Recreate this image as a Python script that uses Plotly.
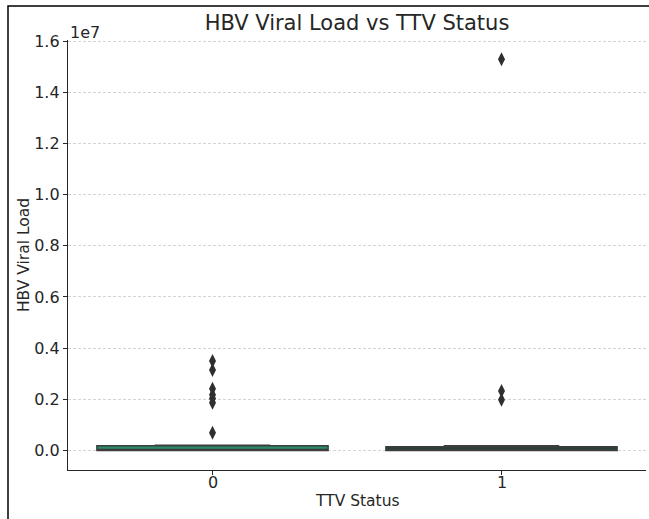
import plotly.graph_objects as go

categories = [0, 1]
category_labels = ["0", "1"]
box_q1 = [0, 0]
box_median = [40000, 30000]
box_q3 = [190000, 150000]
box_lower = [0, 0]
box_upper = [210000, 190000]
box_colors = ["#2a8a6c", "#22453a"]

outliers_0 = [3500000, 3150000, 2410000, 2180000, 2030000, 1870000, 700000]
outliers_1 = [15290000, 2330000, 1980000]

tick_vals = [0, 2e6, 4e6, 6e6, 8e6, 10e6, 12e6, 14e6, 16e6]
tick_text = ["0.0", "0.2", "0.4", "0.6", "0.8", "1.0", "1.2", "1.4", "1.6"]

FONT = "DejaVu Sans"
TXT = "#262626"
fig = go.Figure()
for i, c in enumerate(categories):
    fig.add_trace(go.Box(
        x=[c], q1=[box_q1[i]], median=[box_median[i]], q3=[box_q3[i]],
        lowerfence=[box_lower[i]], upperfence=[box_upper[i]],
        width=0.8, whiskerwidth=0.5, fillcolor=box_colors[i],
        line=dict(color="#3d3d3d", width=1.5), boxpoints=False, showlegend=False))

for c, vals in zip(categories, [outliers_0, outliers_1]):
    fig.add_trace(go.Scatter(
        x=[c] * len(vals), y=vals, mode="markers", showlegend=False,
        marker=dict(symbol="diamond-tall", size=10, color="#2f2f2f")))

annotations = [dict(text="1e7", xref="paper", yref="paper", x=0, y=1.0,
                    xanchor="left", yanchor="bottom", showarrow=False,
                    font=dict(size=16, color=TXT), yshift=-4)]
for c, lab in zip(categories, category_labels):
    annotations.append(dict(text=lab, xref="x", yref="paper", x=c, y=0,
                            xanchor="center", yanchor="top", showarrow=False,
                            yshift=-1, font=dict(size=16, color=TXT)))
annotations.append(dict(text="TTV Status", xref="paper", yref="paper", x=0.5, y=0,
                        xanchor="center", yanchor="top", showarrow=False,
                        yshift=-20, font=dict(size=15.5, color=TXT)))

fig.update_layout(
    width=649, height=519,
    margin=dict(l=68, r=3, t=40, b=49),
    paper_bgcolor="white", plot_bgcolor="white",
    font=dict(family=FONT, size=16, color=TXT),
    title=dict(text="HBV Viral Load vs TTV Status", x=357 / 649, xanchor="center",
               y=1 - 23 / 519, yanchor="middle", font=dict(size=21, color=TXT)),
    xaxis=dict(range=[-0.5, 1.5], tickvals=categories, showticklabels=False,
               showline=True, linecolor=TXT, linewidth=1.3, ticks="outside",
               ticklen=4, tickcolor=TXT, showgrid=False, zeroline=False),
    yaxis=dict(range=[-760000, 16040000], tickvals=tick_vals, ticktext=tick_text,
               showline=True, linecolor=TXT, linewidth=1.3, ticks="outside",
               ticklen=4, tickcolor=TXT, showgrid=True, gridcolor="#d4d4d4",
               griddash="3px,2px", gridwidth=0.8, zeroline=False,
               ticklabelstandoff=0,
               title=dict(text="HBV Viral Load", font=dict(size=15.5), standoff=0)),
    annotations=annotations,
    shapes=[dict(type="rect", xref="paper", yref="paper",
                 x0=-60 / 578, x1=1.2, y0=-0.3, y1=(470 - 6) / 430,
                 line=dict(color="black", width=1.5), layer="below")],
)
fig.write_html("out.html")
